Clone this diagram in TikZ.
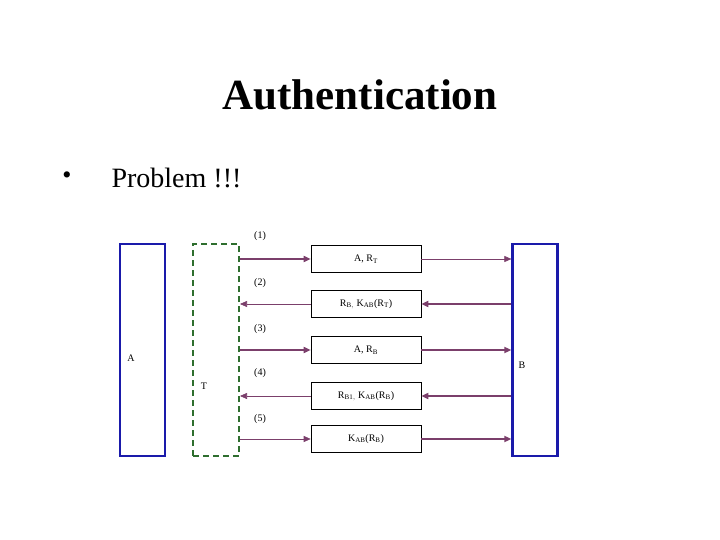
\documentclass[tikz,border=0pt]{standalone}
\usepackage{fontspec}
\setmainfont{Liberation Serif}
\usetikzlibrary{arrows.meta}
\definecolor{msg}{HTML}{7B3F6B}
\definecolor{pblue}{HTML}{1A1AAA}
\definecolor{pgreen}{HTML}{2E6E2E}
\begin{document}
\begin{tikzpicture}[x=1pt,y=-1pt,
  party/.style={draw=pblue,line width=2.2pt,minimum width=45pt,minimum height=212pt,inner sep=0},
  tparty/.style={draw=pgreen,line width=2pt,dash pattern=on 6pt off 4pt,minimum width=46pt,minimum height=212pt,inner sep=0},
  box/.style={draw,line width=0.6pt,minimum width=110pt,minimum height=27pt,inner sep=0,font=\fontsize{10}{12}\selectfont},
  lab/.style={font=\fontsize{10}{12}\selectfont},
  thk/.style={draw=msg,line width=1.6pt,-{Triangle[length=7pt,width=6pt]}},
  thn/.style={draw=msg,line width=0.6pt,-{Triangle[length=7pt,width=6pt]}}]
\useasboundingbox (0,0) rectangle (720,540);
\node[font=\fontsize{43}{48}\selectfont\bfseries] (title) at (360,95) {Authentication};
\node[font=\fontsize{26}{30}\selectfont] (bul) at (67,178) {•};
\node[font=\fontsize{28}{32}\selectfont,anchor=west] (prob) at (108,178) {Problem !!!};
\node[party] (A) at (142.5,350) {};
\node[tparty] (T) at (216,350) {};
\node[party] (B) at (535,350) {};
\node[lab] (la) at (131,358) {A};
\node[lab] (lt) at (204,386) {T};
\node[lab] (lb) at (522,365) {B};
\node[box] (m1) at (366,259) {A, R$_\mathrm{T}$};
\node[box] (m2) at (366,304) {R$_\mathrm{B,}$ K$_\mathrm{AB}$(R$_\mathrm{T}$)};
\node[box] (m3) at (366,350) {A, R$_\mathrm{B}$};
\node[box] (m4) at (366,396) {R$_\mathrm{B1,}$ K$_\mathrm{AB}$(R$_\mathrm{B}$)};
\node[box] (m5) at (366,439) {K$_\mathrm{AB}$(R$_\mathrm{B}$)};
\node[lab] (n1) at (260,236) {(1)};
\node[lab] (n2) at (260,283) {(2)};
\node[lab] (n3) at (260,329) {(3)};
\node[lab] (n4) at (260,373) {(4)};
\node[lab] (n5) at (260,419) {(5)};
\draw[thk] (T.east |- m1) -- (m1.west);
\draw[thn] (m1.east) -- (B.west |- m1);
\draw[thk] (B.west |- m2) -- (m2.east);
\draw[thn] (m2.west) -- (T.east |- m2);
\draw[thk] (T.east |- m3) -- (m3.west);
\draw[thk] (m3.east) -- (B.west |- m3);
\draw[thk] (B.west |- m4) -- (m4.east);
\draw[thn] (m4.west) -- (T.east |- m4);
\draw[thn] (T.east |- m5) -- (m5.west);
\draw[thk] (m5.east) -- (B.west |- m5);
\end{tikzpicture}
\end{document}
